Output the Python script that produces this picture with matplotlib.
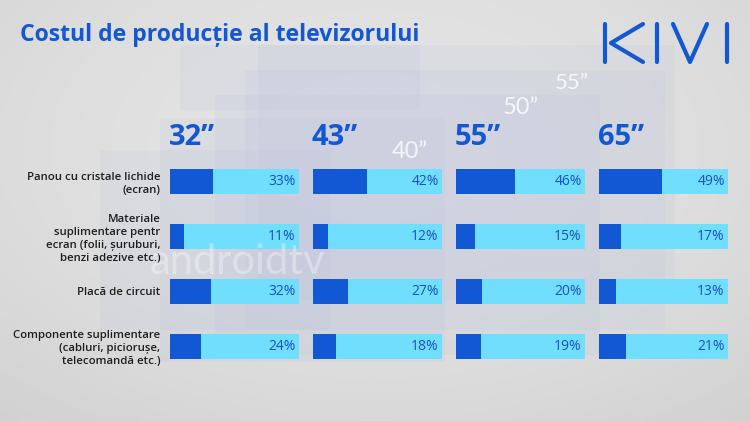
import numpy as np
import matplotlib.pyplot as plt
from matplotlib.patches import Rectangle
from matplotlib.lines import Line2D

# data
sizes = ['32”', '43”', '55”', '65”']
components = [
    'Panou cu cristale lichide\n(ecran)',
    'Materiale\nsuplimentare pentr\necran (folii, șuruburi,\nbenzi adezive etc.)',
    'Placă de circuit',
    'Componente suplimentare\n(cabluri, piciorușe,\ntelecomandă etc.)',
]
share_32 = [33, 11, 32, 24]
share_43 = [42, 12, 27, 18]
share_55 = [46, 15, 20, 19]
share_65 = [49, 17, 13, 21]
shares = [share_32, share_43, share_55, share_65]

DARK = '#1257d3'
LIGHT = '#6fdffd'
TXT_BLUE = '#1a4fc8'

W, H = 750, 421
fig = plt.figure(figsize=(W / 100, H / 100), dpi=100)


def fx(px):
    return px / W


def fy(py):
    return 1 - py / H


# background gradient
bg = fig.add_axes([0, 0, 1, 1])
xx, yy = np.meshgrid(np.linspace(-1, 1, 300), np.linspace(-1, 1, 170))
grad = 0.89 - 0.05 * (xx ** 2 * 0.6 + (yy + 0.3) ** 2 * 0.5)
bg.imshow(grad, cmap='gray', vmin=0, vmax=1, extent=[0, 1, 0, 1],
          aspect='auto', origin='upper')
bg.set_xlim(0, 1)
bg.set_ylim(0, 1)
bg.axis('off')

# faint stacked tv screens in the background
tvs = [(100, 150, 330, 330), (160, 118, 445, 362), (215, 95, 600, 355),
       (245, 70, 665, 330), (180, 45, 420, 110), (258, 45, 675, 300)]
for x0, y0, x1, y1 in tvs:
    bg.add_patch(Rectangle((fx(x0), fy(y1)), fx(x1 - x0), (y1 - y0) / H,
                           color='#b3bbdc', alpha=0.13, lw=0))
for t, x, y, s in [('40”', 392, 152, 17), ('50”', 503, 108, 17),
                   ('55”', 555, 83, 16)]:
    fig.text(fx(x), fy(y), t, color='white', alpha=0.8, fontsize=s,
             family='Lato', ha='left', va='center')
fig.text(fx(150), fy(262), 'androidtv', color='white', alpha=0.35,
         fontsize=30, family='Lato', ha='left', va='center')

# title
fig.text(fx(20), fy(41), 'Costul de producție al televizorului',
         color=DARK, fontsize=16.6, fontweight='bold', family='Open Sans',
         ha='left', va='baseline')

# KIVI logo
logo = [
    [(605, 24), (605, 62)],
    [(643, 24), (611, 43), (643, 62)],
    [(657, 24), (657, 62)],
    [(673, 24), (690, 62), (707, 24)],
    [(727, 24), (727, 62)],
]
for seg in logo:
    xs = [fx(p[0]) for p in seg]
    ys = [fy(p[1]) for p in seg]
    fig.add_artist(Line2D(xs, ys, color=DARK, lw=3.0,
                          solid_capstyle='round', solid_joinstyle='round'))

# panels
lefts = [170, 313, 456, 599]
bar_w = 129
top, bottom = 169, 359
pos = np.arange(len(components))
for i, (size, vals) in enumerate(zip(sizes, shares)):
    ax = fig.add_axes([fx(lefts[i]), fy(bottom), fx(bar_w), (bottom - top) / H])
    ax.set_facecolor('none')
    ax.barh(pos, [100] * len(vals), height=0.455, color=LIGHT, lw=0)
    ax.barh(pos, vals, height=0.455, color=DARK, lw=0)
    for p, v in zip(pos, vals):
        ax.text(97.5, p, f'{v}%', color=TXT_BLUE, fontsize=10,
                family='Open Sans', fontweight='medium',
                ha='right', va='center')
    ax.set_xlim(0, 100)
    ax.set_ylim(len(vals) - 1 + 0.2275, -0.2275)
    ax.set_xticks([])
    ax.set_yticks(pos)
    if i == 0:
        ax.set_yticklabels(components, fontsize=8.2, color='#1e1e1e',
                           family='Open Sans', fontweight='semibold',
                           linespacing=1.25, multialignment='right')
    else:
        ax.set_yticklabels([])
    ax.tick_params(axis='y', length=0, pad=7)
    for s in ax.spines.values():
        s.set_visible(False)
    fig.text(fx(lefts[i] - 1), fy(145), size, color=DARK, fontsize=21,
             fontweight='bold', family='Open Sans', ha='left', va='baseline')

fig.savefig('out.png', dpi=100)
